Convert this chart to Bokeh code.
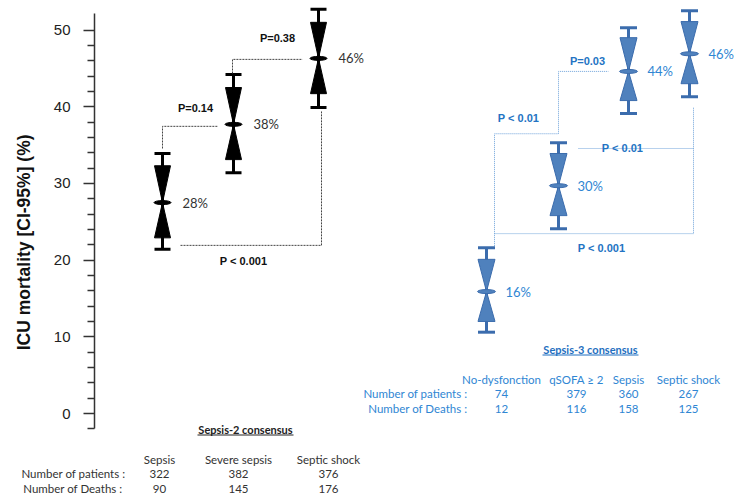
from bokeh.plotting import figure
from bokeh.layouts import column
from bokeh.models import Range1d, LinearAxis, FixedTicker
from bokeh.embed import file_html
from bokeh.resources import INLINE
from bokeh.core.properties import value

# ---------------- data ----------------
s2_groups = ["Sepsis", "Severe sepsis", "Septic shock"]
s2_mortality = [27.5, 37.7, 46.3]
s2_ci_low = [21.4, 31.4, 39.9]
s2_ci_high = [33.9, 44.2, 52.7]
s2_box_low = [22.9, 33.1, 41.7]
s2_box_high = [32.3, 42.5, 51.0]
s2_pct = ["28%", "38%", "46%"]
s2_patients = [322, 382, 376]
s2_deaths = [90, 145, 176]

s3_groups = ["No-dysfonction", "qSOFA \u2265 2", "Sepsis", "Septic shock"]
s3_mortality = [15.9, 29.7, 44.6, 46.9]
s3_ci_low = [10.6, 24.1, 39.1, 41.3]
s3_ci_high = [21.6, 35.3, 50.3, 52.5]
s3_box_low = [12.0, 25.8, 40.8, 43.0]
s3_box_high = [20.1, 33.9, 49.0, 51.1]
s3_pct = ["16%", "30%", "44%", "46%"]
s3_patients = [74, 379, 360, 267]
s3_deaths = [12, 116, 158, 125]

s2_pvalues = ["P=0.14", "P=0.38", "P < 0.001"]
s3_pvalues = ["P < 0.01", "P=0.03", "P < 0.01", "P < 0.001"]

y_ticks = [0, 10, 20, 30, 40, 50]
y_minor = [-2, 2, 4, 6, 8, 12, 14, 16, 18, 22, 24, 26, 28, 32, 34, 36, 38, 42, 44, 46, 48]

# ---------------- layout ----------------
W = 739
H1 = 440
H2 = 60
LEFT = 94
PX_PER_UNIT = 7.67
ZERO_Y = 413
PX = 1.0 / PX_PER_UNIT  # one pixel in y data units


def fx(page_x):
    return page_x - LEFT


def fy(page_y):
    return (ZERO_Y - page_y) / PX_PER_UNIT


s2_pos = [fx(162), fx(233), fx(318)]
s3_pos = [fx(486), fx(558), fx(628), fx(689)]

BLACK = "#000000"
BLUE_FILL = "#4F81BD"
BLUE_LINE = "#3B6CAD"
BLUE_TEXT = "#2F86D3"
BLUE_P = "#2373C3"
BLUE_DOT = "#6FA3DA"
TXT_FONT = "Lato"
TBL_SIZE = "11.5px"

p = figure(width=W, height=H1, x_range=Range1d(0, W - LEFT), y_range=Range1d(fy(H1), fy(0)),
           output_backend="svg", toolbar_location=None, x_axis_type=None, y_axis_type=None,
           min_border_left=LEFT, min_border_right=0, min_border_top=0, min_border_bottom=0)
p.outline_line_color = None
p.xgrid.visible = False
p.ygrid.visible = False

ax = LinearAxis(bounds=(-2, 52.2), ticker=FixedTicker(ticks=y_ticks, minor_ticks=y_minor))
# trailing no-break spaces shift the visible label down, as in the original
ax.axis_label = "ICU mortality [CI-95%] (%)" + "\u00a0" * 9
ax.axis_label_text_font = "Liberation Sans"
ax.axis_label_text_font_style = "bold"
ax.axis_label_text_font_size = "17.5px"
ax.axis_label_text_color = "#111111"
ax.axis_label_standoff = 17
ax.major_label_text_font = "Liberation Sans"
ax.major_label_text_font_size = "15px"
ax.major_label_text_color = "#222222"
ax.major_label_standoff = 13
ax.axis_line_color = "#333333"
ax.axis_line_width = 1.5
ax.major_tick_line_color = "#333333"
ax.minor_tick_line_color = "#333333"
ax.major_tick_line_width = 1.5
ax.minor_tick_line_width = 1.5
ax.major_tick_out = 11
ax.major_tick_in = 0
ax.minor_tick_out = 7
ax.minor_tick_in = 0
p.add_layout(ax, "left")


def draw_markers(pos, mid, lo, hi, blo, bhi, fill, line, half):
    p.segment(x0=pos, y0=lo, x1=pos, y1=hi, line_color=line, line_width=3)
    p.segment(x0=[x - half for x in pos], y0=hi, x1=[x + half for x in pos], y1=hi,
              line_color=line, line_width=3)
    p.segment(x0=[x - half for x in pos], y0=lo, x1=[x + half for x in pos], y1=lo,
              line_color=line, line_width=3)
    xs, ys = [], []
    for x, m, a, b in zip(pos, mid, blo, bhi):
        xs.append([x - half, x + half, x]); ys.append([b, b, m])
        xs.append([x - half, x + half, x]); ys.append([a, a, m])
    p.patches(xs=xs, ys=ys, fill_color=fill, line_color=line, line_width=1)
    p.ellipse(x=pos, y=mid, width=2 * half + 1, height=4 * PX, fill_color=fill,
              line_color=line, line_width=1)


draw_markers(s2_pos, s2_mortality, s2_ci_low, s2_ci_high, s2_box_low, s2_box_high,
             BLACK, BLACK, 8)
draw_markers(s3_pos, s3_mortality, s3_ci_low, s3_ci_high, s3_box_low, s3_box_high,
             BLUE_FILL, BLUE_LINE, 8.5)

# percentage labels
p.text(x=[x + 20 for x in s2_pos], y=s2_mortality, text=s2_pct, text_font=value(TXT_FONT),
       text_font_size="13px", text_color="#333333", text_baseline="middle", text_align="left")
p.text(x=[x + 19 for x in s3_pos], y=s3_mortality, text=s3_pct, text_font=value(TXT_FONT),
       text_font_size="13px", text_color=BLUE_TEXT, text_baseline="middle", text_align="left")

# connectors (sepsis-2)
X, M, L, Hh = s2_pos, s2_mortality, s2_ci_low, s2_ci_high
blk = dict(line_color="#444444", line_width=1, line_dash="2 1")
p.line([X[0], X[0], X[1] - 16], [Hh[0] + 5 * PX, M[1] - 2 * PX, M[1] - 2 * PX], **blk)
p.line([X[1] - 1, X[1] - 1, X[2] - 16], [Hh[1] + 1 * PX, M[2] - 1 * PX, M[2] - 1 * PX], **blk)
p.line([X[0] + 18, X[2] + 3, X[2] + 3], [L[0] + 4 * PX, L[0] + 4 * PX, L[2] - 4 * PX], **blk)

# connectors (sepsis-3)
X, M, L, Hh, BH = s3_pos, s3_mortality, s3_ci_low, s3_ci_high, s3_box_high
blu = dict(line_color=BLUE_DOT, line_width=1, line_dash="1 1")
y_a = Hh[1] + 9 * PX
p.line([X[0] + 8, X[0] + 8, X[1]], [Hh[0] + 2 * PX, y_a, y_a], **blu)
p.line([X[1], X[1], X[2] - 20], [y_a, M[2], M[2]], **blu)
y_b = BH[1] + 5 * PX
y_c = L[1] - 5 * PX
p.line([X[1] + 20, X[3] + 4], [y_b, y_b], **blu)
p.line([X[3] + 4, X[3] + 4], [L[3] - 11 * PX, y_c], **blu)
p.line([X[0] + 8, X[3] + 4], [y_c, y_c], **blu)

# p-value labels
p.text(x=[fx(195), fx(277), fx(243)], y=[fy(107), fy(37), fy(260)], text=s2_pvalues,
       text_font=value("Liberation Sans"), text_font_style="bold", text_font_size="11px",
       text_color="#111111", text_align="center", text_baseline="middle")
p.text(x=[fx(518), fx(587), fx(622), fx(601)], y=[fy(117), fy(60), fy(147), fy(247)],
       text=s3_pvalues, text_font=value("Liberation Sans"), text_font_style="bold",
       text_font_size="11px", text_color=BLUE_P, text_align="center", text_baseline="middle")


def txt(fig, xs, ys, texts, color, align="center", bold=False, size=TBL_SIZE):
    fig.text(x=xs, y=ys, text=texts, text_font=value(TXT_FONT), text_font_size=size,
             text_color=color, text_align=align, text_baseline="middle",
             text_font_style="bold" if bold else "normal")


# Sepsis-2 title (inside main frame)
txt(p, [fx(245)], [fy(429)], ["Sepsis-2 consensus"], "#222222", bold=True, size="11px")
p.segment(x0=[fx(197)], y0=[fy(434.5)], x1=[fx(293)], y1=[fy(434.5)], line_color="#222222", line_width=1)

# Sepsis-3 table (inside main frame)
txt(p, [fx(590)], [fy(349)], ["Sepsis-3 consensus"], "#1F6FC0", bold=True, size="11px")
p.segment(x0=[fx(542)], y0=[fy(354.5)], x1=[fx(638)], y1=[fy(354.5)], line_color="#1F6FC0", line_width=1)
s3_cols = [fx(501), fx(576), fx(628), fx(688)]
txt(p, s3_cols, [fy(379)] * 4, s3_groups, BLUE_TEXT)
txt(p, s3_cols, [fy(393)] * 4, [str(v) for v in s3_patients], BLUE_TEXT)
txt(p, s3_cols, [fy(408)] * 4, [str(v) for v in s3_deaths], BLUE_TEXT)
txt(p, [fx(467), fx(467)], [fy(393), fy(408)], ["Number of patients :", "Number of Deaths :"],
    BLUE_TEXT, align="right")

# Sepsis-2 table (separate strip below, pixel coordinates)
t = figure(width=W, height=H2, x_range=Range1d(0, W), y_range=Range1d(H1 + H2, H1),
           output_backend="svg", toolbar_location=None, x_axis_type=None, y_axis_type=None,
           min_border_left=0, min_border_right=0, min_border_top=0, min_border_bottom=0)
t.outline_line_color = None
t.xgrid.visible = False
t.ygrid.visible = False
for fig in (p, t):
    try:
        fig.frame_align = False
    except Exception:
        pass
T2 = "#333333"
s2_cols = [159, 238, 328]
txt(t, s2_cols, [459] * 3, s2_groups, T2)
txt(t, s2_cols, [473] * 3, [str(v) for v in s2_patients], T2)
txt(t, s2_cols, [488] * 3, [str(v) for v in s2_deaths], T2)
txt(t, [125, 125], [473, 488], ["Number of patients :", "Number of  Deaths :"], T2, align="right")

layout = column(p, t, spacing=0)
open("out.html", "w").write(file_html(layout, INLINE))
